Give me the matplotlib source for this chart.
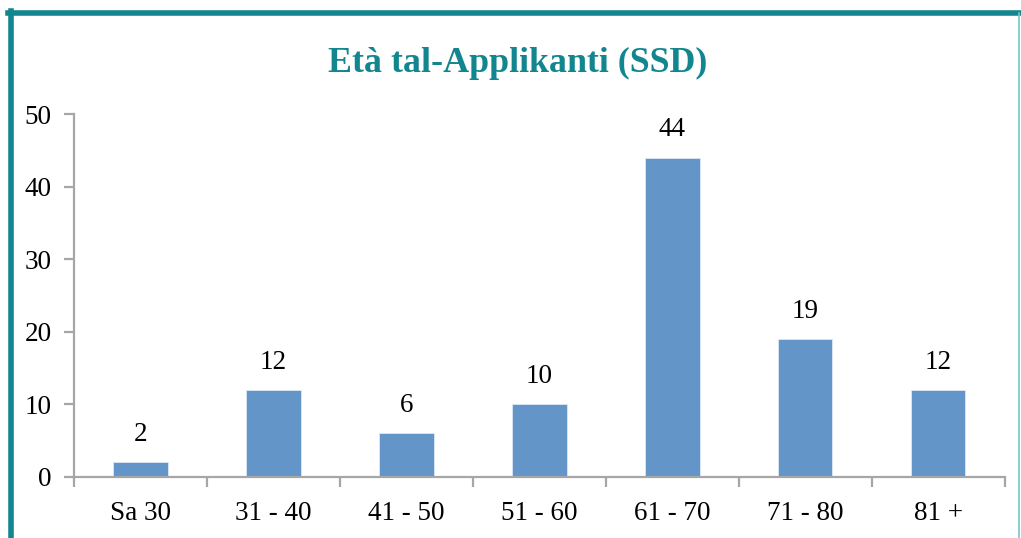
import matplotlib.pyplot as plt
from matplotlib.lines import Line2D

# Age groups of applicants (SSD)
categories = ['Sa 30', '31 - 40', '41 - 50', '51 - 60', '61 - 70', '71 - 80', '81 +']
counts = [2, 12, 6, 10, 44, 19, 12]
yticks = [0, 10, 20, 30, 40, 50]

TEAL = '#12868f'
BAR = '#6395c9'
AXIS = '#a6a6a6'
FS = 19.5

plt.rcParams['font.family'] = ['Liberation Serif', 'DejaVu Serif']

fig = plt.figure(figsize=(10.21, 5.38), dpi=100)
ax = fig.add_axes([0.0725, 0.1134, 0.9115, 0.6746])

x = range(len(categories))
ax.bar(x, counts, width=0.41, color=BAR, edgecolor='#dce8f5', linewidth=0.6, zorder=2)

for xi, v in zip(x, counts):
    ax.annotate(str(v), (xi, v), xytext=(0, 11), textcoords='offset points',
                ha='center', va='bottom', fontsize=FS, color='black')

ax.set_xlim(-0.5, len(categories) - 0.5)
ax.set_ylim(0, 50)
ax.set_yticks(yticks)
ax.set_yticklabels([str(t) for t in yticks], fontsize=FS)

# category labels centred, tick marks between categories
ax.set_xticks(list(x))
ax.set_xticklabels(categories, fontsize=FS)
ax.tick_params(axis='x', length=0, pad=17)
ax.set_xticks([i - 0.5 for i in range(len(categories) + 1)], minor=True)
ax.tick_params(axis='x', which='minor', length=7, width=1.6, color=AXIS, direction='out')
ax.tick_params(axis='y', length=7, width=1.6, color=AXIS, direction='out', pad=9)

for s in ['top', 'right']:
    ax.spines[s].set_visible(False)
for s in ['left', 'bottom']:
    ax.spines[s].set_color(AXIS)
    ax.spines[s].set_linewidth(1.6)

fig.text(0.507, 0.882, 'Età tal-Applikanti (SSD)', ha='center', va='center',
         fontsize=25.8, fontweight='bold', color=TEAL)

# frame: thick teal on top and left, thin on right
fig.add_artist(Line2D([0.0078, 1.0], [0.9766, 0.9766], color=TEAL, linewidth=4, transform=fig.transFigure))
fig.add_artist(Line2D([0.0103, 0.0103], [0.0, 0.98], color=TEAL, linewidth=4, transform=fig.transFigure))
fig.add_artist(Line2D([0.998, 0.998], [0.0, 0.975], color='#7cc3c9', linewidth=1.2, transform=fig.transFigure))

fig.savefig('out.png', dpi=100)
